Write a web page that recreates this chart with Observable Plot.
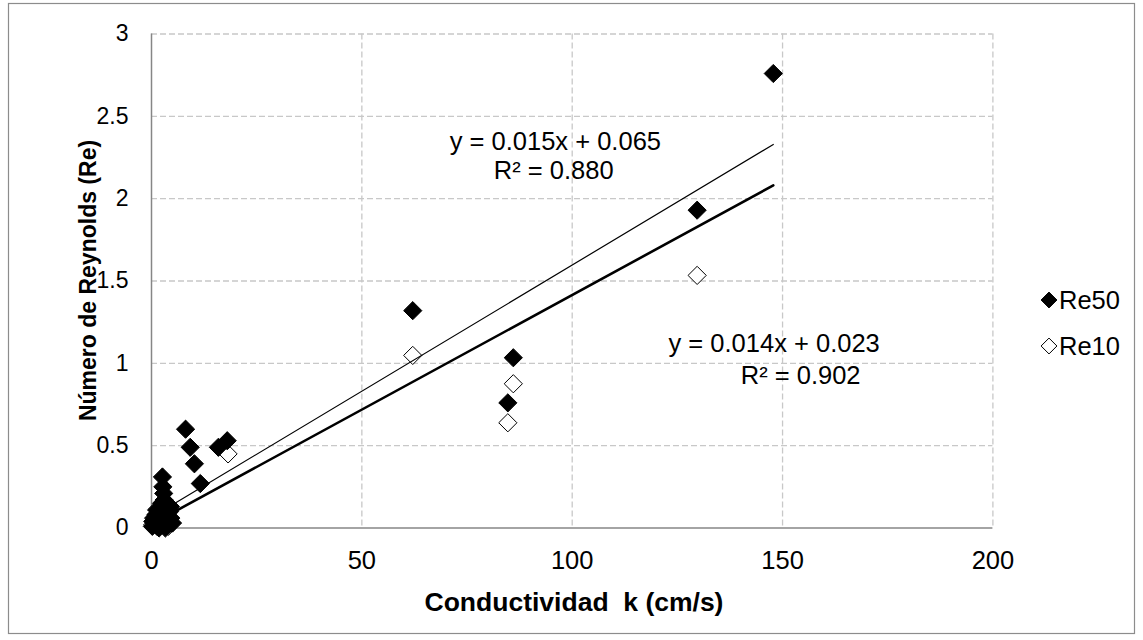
<!DOCTYPE html>
<html><head><meta charset="utf-8">
<script src="https://cdn.jsdelivr.net/npm/d3@7"></script>
<script src="https://cdn.jsdelivr.net/npm/@observablehq/plot@0.6"></script>
<style>body{margin:0;background:#fff}</style>
</head><body><div id="chart"></div>
<script>
// Re50 (filled diamonds)
const re50K = [147.8, 129.7, 62.1, 86.0, 84.7, 8.1, 9.2, 10.2, 11.6, 15.9, 18.0,
  2.6, 2.7, 2.9, 3.0, 3.2, 0.2, 0.3, 0.5, 0.8, 1.0, 1.3, 1.5, 1.8, 2.0, 2.2, 2.5, 3.3, 3.5, 3.8, 4.0, 4.3, 4.5, 4.6, 5.0, 1.2, 2.4];
const re50 = [2.76, 1.93, 1.32, 1.034, 0.76, 0.60, 0.49, 0.39, 0.27, 0.49, 0.53,
  0.31, 0.25, 0.21, 0.17, 0.13, 0.01, 0.04, 0.06, 0.03, 0.08, 0.02, 0.05, 0.00, 0.10, 0.06, 0.12, 0.00, 0.08, 0.05, 0.02, 0.10, 0.13, 0.06, 0.03, 0.11, 0.15];
// Re10 (open diamonds)
const re10K = [129.7, 62.1, 86.0, 84.7, 18.2, 0.3, 0.8, 1.3, 2.0, 2.6, 3.0, 3.5, 4.0, 4.6, 2.2];
const re10 = [1.534, 1.048, 0.876, 0.639, 0.45, 0.02, 0.03, 0.01, 0.05, 0.12, 0.08, 0.04, 0.01, 0.03, 0.09];

// Linear trend lines
const trendNames = ["Re50", "Re10"];
const trendSlope = [0.01532, 0.01392];
const trendIntercept = [0.065, 0.023];
const trendWidth = [1.2, 2.6];
const trendEq = [["y = 0.015x + 0.065", "R² = 0.880"], ["y = 0.014x + 0.023", "R² = 0.902"]];
const eqK = [[96.0, 95.6], [148.0, 154.3]];
const eqY = [[2.345, 2.17], [1.121, 0.927]];

const xTicks = [0, 50, 100, 150, 200];
const yTicks = [0, 0.5, 1, 1.5, 2, 2.5, 3];
const yTickLabels = ["0", "0.5", "1", "1.5", "2", "2.5", "3"];
const xTitle = "Conductividad  k (cm/s)";
const yTitle = "Número de Reynolds (Re)";
const legendNames = ["Re50", "Re10"];

const FONT = "'Liberation Sans', Arial, sans-serif";
const FS = 25.5;
const pts50 = re50K.map((k, i) => ({k, v: re50[i]}));
const pts10 = re10K.map((k, i) => ({k, v: re10[i]}));
const ext = d3.extent(re50K.concat(re10K));
const trendData = trendNames.flatMap((s, i) => ext.map(k => ({s, k, v: trendIntercept[i] + trendSlope[i] * k})));
const eqData = trendEq.flatMap((lines, i) => lines.map((t, j) => ({t, k: eqK[i][j], v: eqY[i][j]})));

const chart = Plot.plot({
  width: 1143, height: 640,
  marginLeft: 151, marginRight: 150.6, marginTop: 33.5, marginBottom: 112.5,
  style: {fontFamily: FONT, background: "#fff"},
  x: {domain: [0, 200]},
  y: {domain: [0, 3]},
  marks: [
    Plot.gridX(xTicks.slice(1), {stroke: "#c8c8c8", strokeOpacity: 1, strokeWidth: 1.3, strokeDasharray: "6,3"}),
    Plot.gridY(yTicks.slice(1), {stroke: "#c8c8c8", strokeOpacity: 1, strokeWidth: 1.3, strokeDasharray: "6,3"}),
    Plot.ruleX([0], {stroke: "#868686", strokeWidth: 1.5}),
    Plot.ruleY([0], {stroke: "#868686", strokeWidth: 1.5}),
    Plot.axisX(xTicks, {tickSize: 0, tickPadding: 23, fontSize: FS, fill: "#000", label: null}),
    Plot.axisY(yTicks, {tickSize: 0, tickPadding: 23, fontSize: 23, fill: "#000", label: null,
      tickFormat: (d) => yTickLabels[yTicks.indexOf(d)]}),
    Plot.dot(pts10, {x: "k", y: "v", symbol: "diamond2", r: 8.2, fill: "#fff", stroke: "#000", strokeWidth: 1}),
    Plot.dot(pts50, {x: "k", y: "v", symbol: "diamond2", r: 8.2, fill: "#000", stroke: "#000", strokeWidth: 1}),
    Plot.line(trendData, {x: "k", y: "v", z: "s", stroke: "#000", strokeWidth: (d) => trendWidth[trendNames.indexOf(d.s)]}),
    Plot.text(eqData, {x: "k", y: "v", text: "t", fontSize: FS, fill: "#000", textAnchor: "middle"})
  ]
});

const svg = d3.select(chart);
svg.insert("rect", ":first-child").attr("x", 8.5).attr("y", 3.5).attr("width", 1126).attr("height", 630)
  .attr("fill", "#fff").attr("stroke", "#8c8c8c").attr("stroke-width", 1.2);
svg.append("text").attr("x", 574).attr("y", 611).attr("text-anchor", "middle").style("white-space", "pre")
  .attr("font-size", 26.5).attr("font-weight", "bold").attr("font-family", FONT).attr("fill", "#000").text(xTitle);
svg.append("text").attr("transform", "translate(96,280.5) rotate(-90)").attr("text-anchor", "middle")
  .attr("font-size", 23).attr("font-weight", "bold").attr("font-family", FONT).attr("fill", "#000").text(yTitle);
const lg = svg.append("g");
legendNames.forEach((n, i) => {
  const cy = 300 + i * 46;
  lg.append("path").attr("transform", `translate(1049,${cy})`)
    .attr("d", d3.symbol(d3.symbolDiamond2, 160)())
    .attr("fill", i === 0 ? "#000" : "#fff").attr("stroke", "#000").attr("stroke-width", 1);
  lg.append("text").attr("x", 1059).attr("y", cy).attr("dy", "0.36em").attr("font-size", FS)
    .attr("text-anchor", "start").attr("font-family", FONT).attr("fill", "#000").text(n);
});
document.getElementById("chart").appendChild(chart);
</script>
</body></html>
